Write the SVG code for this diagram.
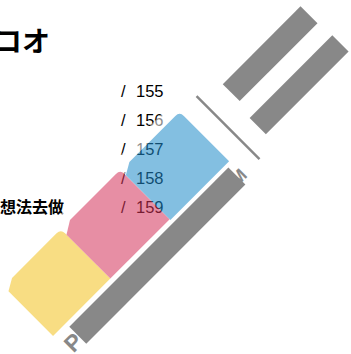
<svg xmlns="http://www.w3.org/2000/svg" width="351" height="354" viewBox="0 0 351 354">
<style>
.t{font-family:"Liberation Sans",Arial,sans-serif;font-size:16.5px;fill:#000}
.cjk{font-family:"Noto Sans CJK JP","Noto Sans CJK SC",sans-serif;font-weight:bold;fill:#000}
.halo{fill:none;stroke:#fff;stroke-width:22;stroke-linejoin:round}
.bar{fill:#888}
.bl{font-family:"Liberation Sans",Arial,sans-serif;font-weight:bold;fill:#888}
</style>
<defs>
<path id="pY" d="M -188,205 L -125,205 Q -119,205 -119,211 L -119,275 L -200,275 L -200,212 Z"/>
<path id="pP" d="M -106,205 L -41,205 Q -35,205 -35,211 L -35,275 L -119,275 L -119,213 Z"/>
<path id="pB" d="M -23,206 L 42,206 Q 48,206 48,212 L 48,276 L -35,276 L -35,213 Z"/>
</defs>
<rect width="351" height="354" fill="#fff"/>
<g id="title"><text class="cjk" x="50" y="52" font-size="28" text-anchor="end">コオ</text></g>
<g id="side-label"><text class="cjk" x="0" y="213" font-size="16">想法去做</text></g>
<g id="labels">
<text class="t" x="121" y="97">/<tspan x="136">155</tspan></text>
<text class="t" x="121" y="126">/<tspan x="136">156</tspan></text>
<text class="t" x="121" y="155">/<tspan x="136">157</tspan></text>
<text class="t" x="121" y="184">/<tspan x="136">158</tspan></text>
<text class="t" x="121" y="213">/<tspan x="136">159</tspan></text>
</g>
<g id="blocks" opacity="0.55" transform="rotate(-45)">
<use href="#pY" class="halo"/>
<use href="#pP" class="halo"/>
<use href="#pB" class="halo"/>
<g id="block-yellow"><use href="#pY" fill="#F4C31F"/></g>
<g id="block-pink"><use href="#pP" fill="#D5335A"/></g>
<g id="block-blue"><use href="#pB" fill="#1F8BCA"/></g>
</g>
<g id="bars" transform="rotate(-45)">
<g id="bar-long"><rect class="bar" x="-182" y="280" width="225" height="24"/>
<text class="bl" x="-198" y="302" font-size="23">P</text>
<text class="bl" x="36" y="300" font-size="18">M</text></g>
<g id="bar-upper-left"><rect class="bar" x="98" y="217" width="110" height="24"/></g>
<g id="bar-upper-right"><rect class="bar" x="93" y="260" width="117" height="23"/></g>
<g id="divider"><line x1="71" y1="207" x2="71" y2="296" stroke="#888" stroke-width="2.5"/></g>
</g>
</svg>
